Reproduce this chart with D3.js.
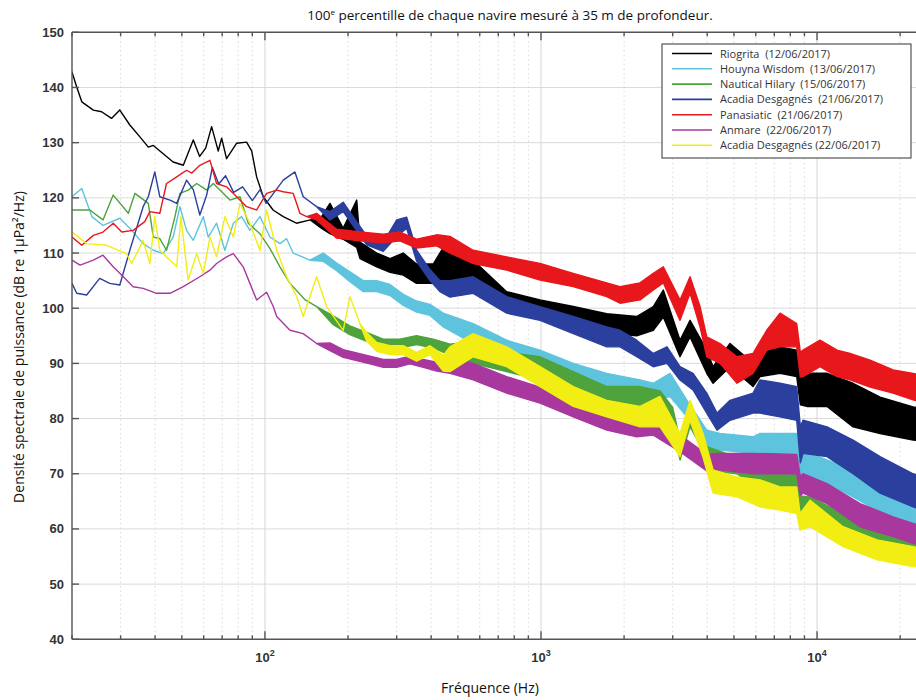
<!DOCTYPE html>
<html><head><meta charset="utf-8">
<script src="https://cdn.jsdelivr.net/npm/d3@7"></script>
<style>body{margin:0;background:#fff;} svg{display:block;} .pre{white-space:pre;}</style>
</head><body>
<svg id="chart" width="916" height="700"></svg>
<script>
// ---------- data (frequency Hz, lower dB, upper dB) ----------
const seriesNames = [
  "Riogrita  (12/06/2017)",
  "Houyna Wisdom  (13/06/2017)",
  "Nautical Hilary  (15/06/2017)",
  "Acadia Desgagnés  (21/06/2017)",
  "Panasiatic  (21/06/2017)",
  "Anmare  (22/06/2017)",
  "Acadia Desgagnés (22/06/2017)"
];
const seriesColors = ["#000000","#5ec4de","#4ea33c","#2b3f9e","#e8171c","#a8389e","#f2ee14"];

const riogrita = [[20,142.8,142.8],[20.8,140.1,140.1],[21.7,137.4,137.4],[23.9,135.9,135.9],[25.6,135.6,135.6],[27.8,134.4,134.4],[29.8,135.9,135.9],[32.4,133.2,133.2],[35.3,131.0,131.0],[37.8,129.2,129.2],[39.4,129.5,129.5],[42.8,128.0,128.0],[46.5,126.5,126.5],[50.6,125.9,125.9],[55,130.5,130.5],[58,127.5,127.5],[61,129,129],[64.1,132.9,132.9],[67.7,128.5,128.5],[69.7,130.8,130.8],[72.6,127.1,127.1],[79,129.9,129.9],[85.8,130.1,130.1],[89.5,128.5,128.5],[93.3,123.8,123.8],[98.6,120.2,120.2],[107,117.8,117.8],[116.5,116.6,116.6],[130,115.4,115.4],[146,116.0,116.0],[160,114.5,116.5],[172,113.5,119.0],[192,112.5,114.5],[215,111,119.6],[221,109,112],[254,107.5,110],[284,106.5,109],[317,106,110],[354,104.5,108],[407,104.5,108],[455,104,112],[568,103.9,108.7],[751,100.3,103],[992,99,101.5],[1309,96.6,100.3],[1730,95.5,99],[2222,95,98.5],[2552,96,100.3],[2774,98.4,103.3],[3189,91.2,94.2],[3467,94.8,97.8],[3985,88.2,92.4],[4201,86.4,89.4],[4839,89.4,93.6],[5864,85.8,90],[6216,87.6,91.8],[7344,88.2,93],[8441,87.6,92.4],[8700,82.5,88],[9201,82.2,88.2],[10870,82.2,88.2],[13504,78.5,86.4],[16920,77.3,83.9],[22280,76.1,82.1],[24000,76,82]];

const houyna = [[20,120.2,120.2],[21.7,121.7,121.7],[23.6,116.6,116.6],[25.9,115.0,115.0],[29.8,116.3,116.3],[32.4,114.5,114.5],[36.2,111.7,111.7],[39.4,110.5,110.5],[42.8,109.9,109.9],[46.5,112.9,112.9],[49.2,118.4,118.4],[52,114.1,114.1],[55,112.3,112.3],[59.8,116.6,116.6],[62.3,112.9,112.9],[66.8,115.4,115.4],[71.6,110.5,110.5],[76.8,115.4,115.4],[82.3,116.6,116.6],[88.2,114.1,114.1],[95.9,116.6,116.6],[104.3,112.9,112.9],[113.3,111.7,111.7],[119.8,112.6,112.6],[126.6,110.0,110.0],[145.6,108.7,108.7],[162.6,108.5,110],[181.9,106.8,108.2],[203.2,104.8,106.6],[227.1,103,105],[254,103,105],[283.8,102.3,104.3],[317,100.5,102.5],[354.4,99.3,101.3],[396.1,98.7,100.7],[442.6,96.6,99.1],[568,93.6,97.2],[751,90.6,94.2],[992,88.8,92.4],[1309,86.4,90],[1730,84.6,88.2],[2284,83.5,87],[2552,83.3,86.4],[2934,84,88.2],[3380,80.3,83.3],[3985,74.8,77.9],[4452,74.3,77.3],[5864,73.7,76.7],[6216,73.7,77.3],[8441,73.7,77.3],[8700,69.5,74],[8897,69.4,74.3],[10870,68.2,72.5],[13504,65.8,70.7],[16920,63,67.2],[19990,61.5,65],[24000,60,63.5]];

const nautical = [[20,117.8,117.8],[23.2,117.8,117.8],[25.9,116.0,116.0],[28.2,120.5,120.5],[32,117.2,117.2],[33.8,120.8,120.8],[37.8,119.0,119.0],[39.4,112.9,112.9],[41.6,112.6,112.6],[44,110.5,110.5],[47.2,116.6,116.6],[49.2,120.8,120.8],[52.7,121.4,121.4],[56.6,122.6,122.6],[61.5,121.4,121.4],[65,122.6,122.6],[68.7,121.4,121.4],[74.7,119.6,119.6],[81.2,120.2,120.2],[87,115.4,115.4],[95.9,113.5,113.5],[104.3,110.8,110.8],[113.3,107.5,107.5],[123.2,104.5,104.5],[140,101.5,101.5],[153.9,100.3,100.3],[176.8,97,98.6],[203,95.2,96.8],[233.6,94,95.6],[268,92.8,94.4],[308,92.8,94.4],[354,93.4,95],[407,92.8,94.4],[468,91.5,93.5],[568,90,94],[751,88.5,92],[992,87,91.2],[1309,85,88.5],[1730,82.2,85.8],[2284,81.6,85.8],[2699,80.5,85],[3000,78,82],[3189,72.5,76.1],[3467,78.5,81],[3700,76,79],[3985,70.7,74.9],[5130,70,73],[6216,67,70],[8441,67,70],[8700,63,66],[9433,62.8,65.8],[12424,59.8,62.8],[16500,57.4,60.4],[22280,55,58],[24000,54.5,57.5]];

const acadia21 = [[20,104.5,104.5],[20.8,102.7,102.7],[22.6,102.4,102.4],[25.2,105.4,105.4],[27.4,104.5,104.5],[29.8,104.2,104.2],[32.4,110.5,110.5],[36.2,118.4,118.4],[37.8,120.2,120.2],[39.9,124.7,124.7],[41.6,120.2,120.2],[45.3,119.6,119.6],[47.9,119.0,119.0],[52,123.2,123.2],[55,121.5,121.5],[58.1,116.9,116.9],[61.5,120.5,120.5],[64.5,125.5,125.5],[68,122.5,122.5],[72,124,124],[77,121,121],[83,122,122],[90,119.5,119.5],[96,121.5,121.5],[101,119,119],[108,121,121],[116.5,123.2,123.2],[128.4,124.7,124.7],[137.6,120.2,120.2],[153.9,118.4,118.4],[172,116,117.5],[192.1,117.5,119.2],[203.2,115.8,117.4],[233.6,111.5,113.1],[268.3,110.3,111.9],[300.1,113,116],[326.1,114.5,116.5],[354.4,108.5,110.5],[396.1,105,107],[430.5,103,105],[468,102,105],[568,102.7,105.7],[751,99.1,102.1],[992,97.8,100.3],[1309,95.4,98.5],[1730,93,96.6],[1933,93,96],[2222,91.2,94.2],[2552,89.4,91.8],[2861,90,93],[3189,87,89.4],[3554,85.2,88.2],[3985,81,84.6],[4342,77.9,81],[4839,79.7,83.3],[5864,81,84.6],[6216,81,87],[7344,80.3,86.4],[8441,79.7,85.8],[8700,72,78.5],[8897,73.7,79.7],[10870,73.1,78.5],[13504,70,76.1],[16920,66.5,73.1],[22280,64,70],[24000,63.5,69.5]];

const panasiatic = [[20,112.9,112.9],[21.7,111.4,111.4],[23.9,113.2,113.2],[25.9,113.8,113.8],[28.2,115.4,115.4],[30.3,113.8,113.8],[33.3,114.1,114.1],[36.7,115.7,115.7],[38.3,117.5,117.5],[41.6,117.2,117.2],[44,122.6,122.6],[47.9,123.8,123.8],[52,125.0,125.0],[54.3,124.5,124.5],[58.1,125.9,125.9],[63.2,126.8,126.8],[66.8,122.6,122.6],[72.6,122.0,122.0],[79,120.2,120.2],[85.8,118.4,118.4],[93.3,117.8,117.8],[101.4,120.8,120.8],[110.3,121.4,121.4],[116.5,121.1,121.1],[126.6,120.8,120.8],[133.9,117.2,117.2],[141.6,116.6,116.6],[153.9,116,117.2],[181.9,112.7,114.3],[220.9,112.2,113.8],[268.3,111.8,113.4],[308.4,112.2,113.8],[354.4,110.9,112.5],[418.9,111.3,113.3],[468,110,113],[568,108.1,110.5],[751,106.9,109.3],[992,105.1,108.1],[1309,103.9,106.3],[1730,102.1,104.6],[1933,100.9,103.9],[2284,101.5,104.6],[2552,103.3,106.3],[2774,104.6,107.5],[3189,97.8,101.5],[3467,102.7,105.7],[3769,96.6,100.3],[3985,91.2,94.8],[4452,90,93.6],[5130,86.4,91.2],[5864,88.2,91.8],[6573,92.4,96],[7344,93,99.1],[8441,93,97.2],[8700,87.5,92],[8897,87.6,92.4],[10254,89.4,94.2],[11817,87.6,92.4],[13171,87,91.8],[15560,85.7,90.6],[18860,84.6,88.8],[22280,83.4,88.2],[24000,83,87.8]];

const anmare = [[20,108.7,108.7],[21.4,107.8,107.8],[23.9,108.7,108.7],[25.9,109.6,109.6],[28.2,107.5,107.5],[30.7,105.7,105.7],[33.3,103.9,103.9],[36.2,103.6,103.6],[40.5,102.7,102.7],[45.3,102.7,102.7],[50.6,103.9,103.9],[58.1,105.7,105.7],[63.2,106.9,106.9],[66.8,108.1,108.1],[72.6,109.3,109.3],[76.8,109.9,109.9],[83.4,107.5,107.5],[88.2,104.5,104.5],[93.3,101.5,101.5],[101.4,102.9,102.9],[107.2,100.3,100.3],[110.3,98.5,98.5],[123.2,96.0,96.0],[137.6,95.4,95.4],[153.9,93.6,93.6],[172,92.3,93.7],[192.1,91.1,92.5],[214.9,90.5,91.9],[240.2,89.9,91.3],[268.3,89.3,90.7],[300.1,89.3,90.7],[335.2,89.9,91.3],[374.6,89.3,90.7],[418.9,88.6,90.2],[468,88.2,91.2],[568,87,90],[751,84.6,87.6],[992,82.8,85.7],[1309,80.3,83.3],[1730,77.9,80.9],[2222,76.7,79.2],[2552,77,79],[3189,74,77],[3985,70.5,73.5],[4452,70.7,73.7],[5864,70,73.7],[8441,70,73.5],[8700,66,69.5],[8897,66.5,70],[10870,64.6,68.2],[14320,60.4,64.6],[18860,58.6,62.2],[22280,57.4,61],[24000,57,60.5]];

const acadia22 = [[20,113.8,113.8],[22.6,111.7,111.7],[26.7,111.4,111.4],[31.5,109.9,109.9],[32.9,108.1,108.1],[36.2,112.3,112.3],[38.3,108.1,108.1],[39.9,116.6,116.6],[41.6,110.5,110.5],[47.9,107.5,107.5],[49.6,116.6,116.6],[52.7,105.1,105.1],[56.6,109.9,109.9],[59.8,106.3,106.3],[63.2,112.9,112.9],[66.8,109.3,109.3],[71.6,116.6,116.6],[76.8,112.9,112.9],[81.2,119.0,119.0],[88.2,115.4,115.4],[95.9,110.5,110.5],[101.4,117.8,117.8],[110.3,110.5,110.5],[119.8,105.7,105.7],[130.3,102.1,102.1],[137.6,98.5,98.5],[153.9,105.7,105.7],[167.3,100.3,100.3],[192.1,96.0,96.0],[203.2,102.1,102.1],[220.9,97.2,97.2],[233.6,94,95.6],[254,92.2,93.8],[283.8,91.6,93.2],[317,91.6,93.2],[354.4,90.4,92],[396.1,91.6,93.2],[442.6,88.6,91.5],[468,88.5,93],[568,91.2,95.4],[751,89.4,93],[992,85.8,89.4],[1309,82.2,85.8],[1730,80.3,83.3],[2284,78.5,82.2],[2699,78.5,84],[3189,73.1,77.3],[3467,79.7,83.3],[3864,73,77.3],[4201,66.5,70.7],[5130,65.8,69.4],[6216,64,68.9],[7344,63.4,67.6],[8441,62.8,67.6],[8678,59.8,62.8],[9433,60.4,65.2],[12424,56.8,60.4],[16500,54.4,58],[22280,53.2,56.8],[24000,53,56.5]];

const yTicks = [40,50,60,70,80,90,100,110,120,130,140,150];
const xDecades = [100,1000,10000];
const xDecadeExp = ["2","3","4"];
const xMinor = [20,30,40,50,60,70,80,90,200,300,400,500,600,700,800,900,2000,3000,4000,5000,6000,7000,8000,9000,20000];
const xDomain = [20,24000];
const yDomain = [40,150];

// ---------- drawing ----------
const allSeries = [riogrita,houyna,nautical,acadia21,panasiatic,anmare,acadia22];
const svg = d3.select("#chart");
const L = 72, R = 922, T = 32.3, B = 639.3;
const x = d3.scaleLog().domain(xDomain).range([L, R]);
const y = d3.scaleLinear().domain(yDomain).range([B, T]);

svg.append("defs").append("clipPath").attr("id","clip")
  .append("rect").attr("x",L).attr("y",T).attr("width",R-L).attr("height",B-T);

// grid
const grid = svg.append("g");
grid.selectAll(".hg").data(yTicks.slice(1,-1)).enter().append("line")
  .attr("x1",L).attr("x2",R).attr("y1",d=>y(d)).attr("y2",d=>y(d))
  .attr("stroke","#dadada").attr("stroke-width",1);
grid.selectAll(".vm").data(xMinor).enter().append("line")
  .attr("x1",d=>x(d)).attr("x2",d=>x(d)).attr("y1",T).attr("y2",B)
  .attr("stroke","#cfcfcf").attr("stroke-width",0.8).attr("stroke-dasharray","1.5,3");
grid.selectAll(".vd").data(xDecades).enter().append("line")
  .attr("x1",d=>x(d)).attr("x2",d=>x(d)).attr("y1",T).attr("y2",B)
  .attr("stroke","#d6d6d6").attr("stroke-width",1);

// series
const area = d3.area().x(d=>x(d[0])).y0(d=>y(d[1])).y1(d=>y(d[2]));
const plot = svg.append("g").attr("clip-path","url(#clip)");
allSeries.forEach((s,i)=>{
  plot.append("path").datum(s).attr("d",area)
    .attr("fill",seriesColors[i]).attr("stroke",seriesColors[i])
    .attr("stroke-width",1.4).attr("stroke-linejoin","round");
});

// axes box
const ax = svg.append("g").attr("stroke","#555").attr("stroke-width",1.4);
ax.append("line").attr("x1",L).attr("x2",L).attr("y1",T).attr("y2",B);
ax.append("line").attr("x1",L).attr("x2",R).attr("y1",B).attr("y2",B);
ax.append("line").attr("x1",L).attr("x2",R).attr("y1",T).attr("y2",T);
ax.append("line").attr("x1",R).attr("x2",R).attr("y1",T).attr("y2",B);
ax.selectAll(".yt").data(yTicks).enter().append("line")
  .attr("x1",L).attr("x2",L+7).attr("y1",d=>y(d)).attr("y2",d=>y(d));
ax.selectAll(".xtb").data(xDecades).enter().append("line")
  .attr("x1",d=>x(d)).attr("x2",d=>x(d)).attr("y1",B).attr("y2",B-8);
ax.selectAll(".xmb").data(xMinor).enter().append("line")
  .attr("x1",d=>x(d)).attr("x2",d=>x(d)).attr("y1",B).attr("y2",B-4);
ax.selectAll(".xtt").data(xDecades).enter().append("line")
  .attr("x1",d=>x(d)).attr("x2",d=>x(d)).attr("y1",T).attr("y2",T+8);
ax.selectAll(".xmt").data(xMinor).enter().append("line")
  .attr("x1",d=>x(d)).attr("x2",d=>x(d)).attr("y1",T).attr("y2",T+4);

// y tick labels
svg.selectAll(".yl").data(yTicks).enter().append("text")
  .attr("x",L-8).attr("y",d=>y(d)+4.5).attr("text-anchor","end")
  .attr("font-family","Liberation Sans, Arial, sans-serif").attr("font-size",13)
  .attr("font-weight","bold").attr("fill","#333").text(d=>d);

// x tick labels
const xl = svg.selectAll(".xl").data(xDecades).enter().append("text")
  .attr("x",d=>x(d)).attr("y",662).attr("text-anchor","middle")
  .attr("font-family","Liberation Sans, Arial, sans-serif").attr("font-size",13)
  .attr("font-weight","bold").attr("fill","#333");
xl.append("tspan").text("10");
xl.append("tspan").attr("dy",-6).attr("font-size",9).text((d,i)=>xDecadeExp[i]);

// title
const t = svg.append("text").attr("x",510).attr("y",20).attr("text-anchor","middle")
  .attr("font-family","Open Sans, sans-serif").attr("font-size",13.5).attr("fill","#111");
t.append("tspan").text("100");
t.append("tspan").attr("dy",-5).attr("font-size",8).text("e");
t.append("tspan").attr("dy",5).text(" percentille de chaque navire mesuré à 35 m de profondeur.");

// axis labels
svg.append("text").attr("x",490).attr("y",693).attr("text-anchor","middle")
  .attr("font-family","Open Sans, sans-serif").attr("font-size",14).attr("fill","#111")
  .text("Fréquence (Hz)");
svg.append("text").attr("transform","translate(24,347) rotate(-90)").attr("text-anchor","middle")
  .attr("font-family","Open Sans, sans-serif").attr("font-size",14).attr("fill","#111")
  .text("Densité spectrale de puissance (dB re 1µPa²/Hz)");

// legend
const lg = svg.append("g");
lg.append("rect").attr("x",662).attr("y",44).attr("width",249).attr("height",114)
  .attr("fill","#fff").attr("stroke","#333").attr("stroke-width",1);
seriesNames.forEach((n,i)=>{
  const yy = 53.5 + i*15.3;
  lg.append("line").attr("x1",672).attr("x2",712).attr("y1",yy).attr("y2",yy)
    .attr("stroke",seriesColors[i]).attr("stroke-width",1.6);
  lg.append("text").attr("class","pre").attr("x",720).attr("y",yy+4).attr("font-family","Open Sans, sans-serif")
    .attr("font-size",11).attr("fill","#333").text(n);
});
</script>
</body></html>
